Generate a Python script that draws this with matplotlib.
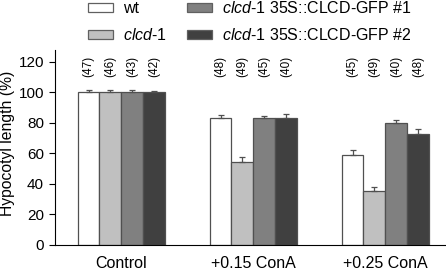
import matplotlib
matplotlib.use('Agg')
import matplotlib.pyplot as plt
import numpy as np
from matplotlib.patches import Patch

plt.rcParams['font.family'] = 'Liberation Sans'
plt.rcParams['mathtext.fontset'] = 'custom'
plt.rcParams['mathtext.rm'] = 'Liberation Sans'
plt.rcParams['mathtext.it'] = 'Liberation Sans:italic'

# data
groups = ['Control', '+0.15 ConA', '+0.25 ConA']
series = ['wt', r'$\it{clcd}$-$\it{1}$',
          r'$\it{clcd}$-$\it{1}$ 35S::CLCD-GFP #1',
          r'$\it{clcd}$-$\it{1}$ 35S::CLCD-GFP #2']
values = [[100, 83, 59],
          [100, 54, 35],
          [100, 83, 80],
          [100, 83, 73]]
errors = [[1.7, 2.4, 3.2],
          [1.8, 3.5, 2.9],
          [1.5, 1.5, 2.0],
          [1.0, 2.5, 3.0]]
counts = [[47, 48, 45],
          [46, 49, 49],
          [43, 45, 40],
          [42, 40, 48]]
colors = ['#ffffff', '#c0c0c0', '#808080', '#404040']

fig = plt.figure(figsize=(4.46, 2.70), dpi=100)
ax = fig.add_axes([0.1233, 0.0937, 0.8767, 0.722])

x = np.arange(len(groups))
w = 0.165
for i in range(4):
    pos = x + (i - 1.5) * w
    ax.bar(pos, values[i], w, color=colors[i], edgecolor='#505050', linewidth=0.9,
           yerr=[np.zeros(3), errors[i]],
           error_kw=dict(ecolor='#505050', elinewidth=0.9, capsize=2.2, capthick=0.9))
    for p, n in zip(pos, counts[i]):
        ax.text(p, 117, f'({n})', rotation=90, ha='center', va='center', fontsize=8.5)

ax.set_xlim(-0.502, 2.46)
ax.set_ylim(0, 128)
ax.set_yticks(range(0, 121, 20))
ax.set_xticks(x)
ax.set_xticklabels(groups, fontsize=11.5)
ax.tick_params(axis='x', length=0, pad=8)
ax.tick_params(axis='y', direction='out', length=4, labelsize=11, width=0.8, pad=4)
ax.set_ylabel('Hypocotyl length (%)', fontsize=11.3)
ax.yaxis.set_label_coords(-0.103, 0.52)
for s in ['top', 'right']:
    ax.spines[s].set_visible(False)

handles = [Patch(facecolor=c, edgecolor='#606060', linewidth=0.9) for c in colors]
fig.legend(handles, series, ncol=2, loc='upper left', bbox_to_anchor=(0.164, 1.053),
           frameon=False, fontsize=11.5, handlelength=1.57, handleheight=0.5,
           columnspacing=1.3, labelspacing=0.68, handletextpad=0.63)

fig.savefig('out.png', dpi=100)
